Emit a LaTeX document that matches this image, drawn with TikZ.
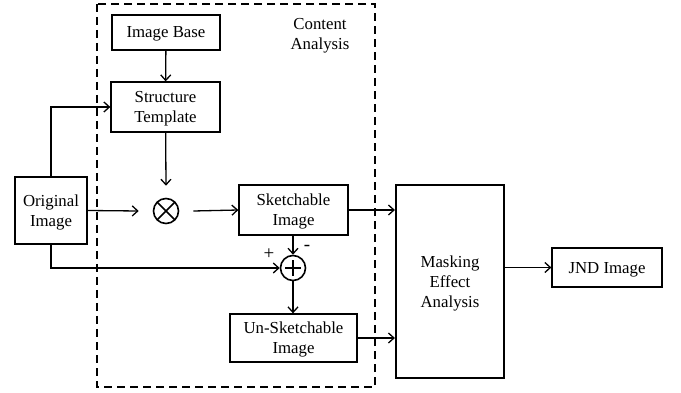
\documentclass[tikz,border=0pt]{standalone}
\usepackage{fontspec}
\setmainfont{Liberation Serif}
\usetikzlibrary{arrows.meta}
\begin{document}
\begin{tikzpicture}[x=1pt,y=-1pt,
  font=\fontsize{16.8}{20}\selectfont,
  blk/.style={draw,line width=1.3pt,inner sep=0pt,align=center,text depth=0pt},
  conn/.style={line width=1.3pt,-{Straight Barb[length=5.5pt,width=10pt]}},
  opnode/.style={draw,circle,line width=1.6pt,minimum size=25pt,inner sep=0pt},
  sign/.style={font=\fontsize{19}{20}\selectfont,inner sep=0pt}]
\useasboundingbox (0,0) rectangle (681,393);
% dashed container
\draw[line width=2pt,dash pattern=on 8pt off 5pt] (97,4) rectangle (375,387);
\node[align=center] (ca) at (320,36) {Content\\Analysis};
% blocks
\node[blk,minimum width=108pt,minimum height=35pt] (base) at (166,32.5) {Image Base};
\node[blk,minimum width=109pt,minimum height=50pt] (tmpl) at (165.5,107) {Structure\\Template};
\node[blk,minimum width=72pt,minimum height=67pt] (orig) at (51,210.5) {Original\\Image};
\node[blk,minimum width=109pt,minimum height=50pt] (sketch) at (293.5,210) {Sketchable\\Image};
\node[blk,minimum width=127pt,minimum height=48pt] (unsk) at (293.5,338) {Un-Sketchable\\Image};
\node[blk,line width=2.2pt,minimum width=108pt,minimum height=193pt] (mask) at (450,281.5) {Masking\\Effect\\Analysis};
\node[blk,minimum width=110pt,minimum height=39pt] (jnd) at (607,267.5) {JND Image};
% operators
\node[opnode] (mul) at (166,211) {};
\draw[line width=1.6pt] ([shift={(45:12.5pt)}]mul.center) -- ([shift={(225:12.5pt)}]mul.center)
  ([shift={(135:12.5pt)}]mul.center) -- ([shift={(315:12.5pt)}]mul.center);
\node[opnode] (add) at (293,268) {};
\draw[line width=1.6pt] ([xshift=-8pt]add.center) -- ([xshift=8pt]add.center)
  ([yshift=-8pt]add.center) -- ([yshift=8pt]add.center);
\node[sign] (plus) at (269,254) {+};
\node[sign] (minus) at (307,248) {-};
% connectors
\draw[conn] (base) -- (tmpl);
\draw[conn] (tmpl) -- ([yshift=12pt]mul.north);
\draw[conn] (orig.north) |- (tmpl.west);
\draw[conn] (orig.east) -- ([xshift=-14pt]mul.west);
\draw[conn] ([xshift=14pt]mul.east) -- (sketch.west);
\draw[conn] (sketch.south -| add) -- (add.north);
\draw[conn] (orig.south) |- (add.west);
\draw[conn] (add.south) -- (unsk.north -| add);
\draw[conn] (sketch.east) -- (mask.west |- sketch.east);
\draw[conn] (unsk.east) -- (mask.west |- unsk.east);
\draw[conn] (mask.east |- jnd.west) -- (jnd.west);
\end{tikzpicture}
\end{document}
